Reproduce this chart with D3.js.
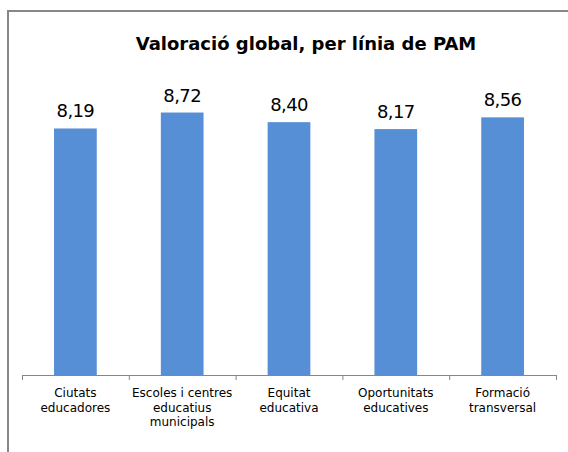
<!DOCTYPE html>
<html>
<head>
<meta charset="utf-8">
<script src="https://cdn.jsdelivr.net/npm/d3@7"></script>
<style>
  body { margin: 0; background: #fff; }
  svg { display: block; }
</style>
</head>
<body>
<div id="chart"></div>
<script>
const categories = [
  ['Ciutats', 'educadores'],
  ['Escoles i centres', 'educatius', 'municipals'],
  ['Equitat', 'educativa'],
  ['Oportunitats', 'educatives'],
  ['Formació', 'transversal'],
];
const values = [8.19, 8.72, 8.40, 8.17, 8.56];
const title = 'Valoració global, per línia de PAM';

const width = 568;
const height = 452;

const svg = d3.select('#chart').append('svg')
  .attr('width', width)
  .attr('height', height);

// chart frame (clipped at right and bottom like the original)
svg.append('path')
  .attr('d', `M8,${height} L8,11 L${width},11`)
  .attr('fill', 'none')
  .attr('stroke', '#878787')
  .attr('stroke-width', 2);

svg.append('text')
  .attr('x', 306)
  .attr('y', 50)
  .attr('text-anchor', 'middle')
  .attr('font-family', 'DejaVu Sans')
  .attr('font-weight', 'bold')
  .attr('font-size', 18)
  .attr('fill', '#000')
  .text(title);

const idx = d3.range(values.length);

const x = d3.scaleBand()
  .domain(idx)
  .range([22, 556])
  .paddingInner(0.6)
  .paddingOuter(0.3);

const y = d3.scaleLinear()
  .domain([0, 10])
  .range([375, 74]);

const step = x.step();

svg.append('g')
  .selectAll('rect')
  .data(values)
  .join('rect')
  .attr('x', (d, i) => x(i))
  .attr('y', (d) => y(d))
  .attr('width', x.bandwidth())
  .attr('height', (d) => y(0) - y(d))
  .attr('fill', '#568fd6');

svg.append('g')
  .selectAll('text')
  .data(values)
  .join('text')
  .attr('x', (d, i) => x(i) + x.bandwidth() / 2)
  .attr('y', (d) => y(d) - 11)
  .attr('text-anchor', 'middle')
  .attr('font-family', 'DejaVu Sans')
  .attr('font-size', 18)
  .attr('letter-spacing', -0.6)
  .attr('fill', '#000')
  .text((d) => d.toFixed(2).replace('.', ','));

// category axis
const axis = svg.append('g');
axis.append('line')
  .attr('x1', 22)
  .attr('x2', 556)
  .attr('y1', y(0) + 0.5)
  .attr('y2', y(0) + 0.5)
  .attr('stroke', '#878787');

axis.selectAll('line.tick')
  .data(d3.range(values.length + 1))
  .join('line')
  .attr('class', 'tick')
  .attr('x1', (d) => 22 + d * step + 0.5)
  .attr('x2', (d) => 22 + d * step + 0.5)
  .attr('y1', y(0))
  .attr('y2', y(0) + 5)
  .attr('stroke', '#878787');

axis.selectAll('text')
  .data(categories)
  .join('text')
  .attr('x', (d, i) => x(i) + x.bandwidth() / 2)
  .attr('y', 397)
  .attr('text-anchor', 'middle')
  .attr('font-family', 'DejaVu Sans')
  .attr('font-size', 12)
  .attr('fill', '#000')
  .selectAll('tspan')
  .data((d) => d)
  .join('tspan')
  .attr('x', function () { return d3.select(this.parentNode).attr('x'); })
  .attr('dy', (d, i) => (i === 0 ? 0 : 14.5))
  .text((d) => d);
</script>
</body>
</html>
